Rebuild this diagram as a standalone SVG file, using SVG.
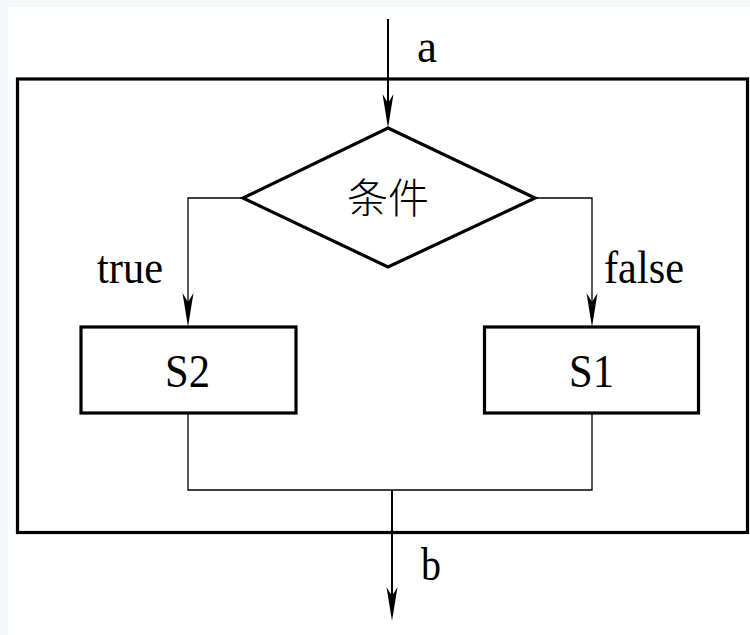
<svg xmlns="http://www.w3.org/2000/svg" width="750" height="635" viewBox="0 0 750 635">
<style>
.shape{fill:none;stroke:#000;stroke-width:3.2}
.conn{fill:none;stroke:#000;stroke-width:1.3}
.thick{fill:none;stroke:#000;stroke-width:2}
.lbl{font-family:"Liberation Serif","Times New Roman",serif;font-size:46px;fill:#000}
.cjk{font-family:"Noto Sans CJK SC","Noto Sans CJK JP",sans-serif;font-size:41px;fill:#000;font-weight:300}
</style>
<defs>
<path id="ah" d="M0,0 L-5.5,-34 L0,-25 L5.5,-34 Z" fill="#000"/>
</defs>
<rect x="0" y="0" width="750" height="635" fill="#f4f8f8"/>
<rect x="8" y="7" width="742" height="628" fill="#fff"/>
<g id="frame">
<rect class="shape" x="17.5" y="79" width="730" height="453.5"/>
</g>
<g id="connectors">
<line class="thick" x1="388" y1="19" x2="388" y2="110"/>
<use href="#ah" x="388" y="128"/>
<polyline class="conn" points="243,198 188,198 188,310"/>
<use href="#ah" x="188" y="327"/>
<polyline class="conn" points="535,198 592,198 592,310"/>
<use href="#ah" x="592" y="327"/>
<polyline class="conn" points="188,413 188,490 592,490 592,413"/>
<line class="thick" x1="392" y1="490" x2="392" y2="600"/>
<use href="#ah" x="392" y="621"/>
</g>
<g id="label-a"><text class="lbl" x="417" y="62" textLength="20" lengthAdjust="spacingAndGlyphs">a</text></g>
<g id="label-b"><text class="lbl" x="421" y="580" textLength="20" lengthAdjust="spacingAndGlyphs">b</text></g>
<g id="label-true"><text class="lbl" x="97" y="283" textLength="66" lengthAdjust="spacingAndGlyphs">true</text></g>
<g id="label-false"><text class="lbl" x="604" y="283" textLength="80" lengthAdjust="spacingAndGlyphs">false</text></g>
<g id="cond">
<polygon class="shape" points="388,128 535,198 388,267 243,198"/>
<text class="cjk" x="388" y="213" text-anchor="middle">条件</text>
</g>
<g id="S2">
<rect class="shape" x="81" y="327" width="215" height="86"/>
<text class="lbl" x="165" y="387" textLength="45" lengthAdjust="spacingAndGlyphs">S2</text>
</g>
<g id="S1">
<rect class="shape" x="484.5" y="327" width="214" height="86"/>
<text class="lbl" x="569" y="387" textLength="45" lengthAdjust="spacingAndGlyphs">S1</text>
</g>
</svg>
